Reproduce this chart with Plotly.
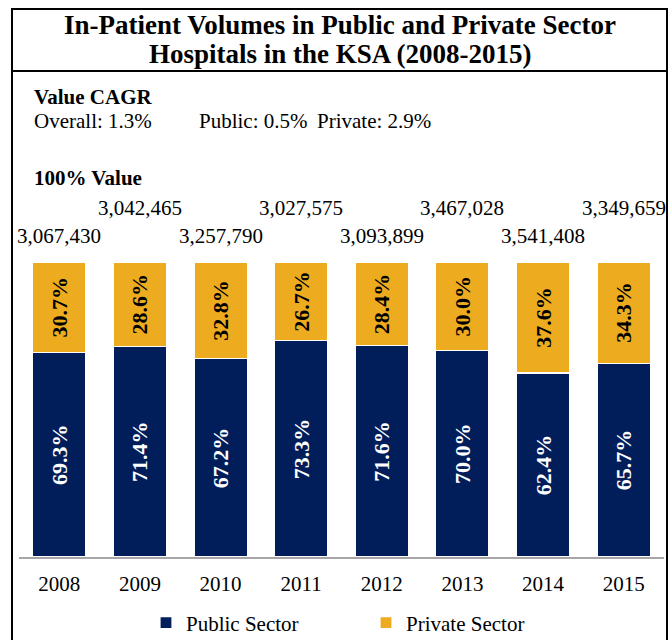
import plotly.graph_objects as go

# ---- data ----
years = ["2008", "2009", "2010", "2011", "2012", "2013", "2014", "2015"]
public_pct = [69.3, 71.4, 67.2, 73.3, 71.6, 70.0, 62.4, 65.7]
private_pct = [30.7, 28.6, 32.8, 26.7, 28.4, 30.0, 37.6, 34.3]
totals = [3067430, 3042465, 3257790, 3027575, 3093899, 3467028, 3541408, 3349659]
cagr_labels = ["Overall: 1.3%", "Public: 0.5%", "Private: 2.9%"]

NAVY = "#011E5B"
GOLD = "#EDAC1F"
FONT = "Liberation Serif, Times New Roman, serif"

W, H = 669, 640
L, R, T, B = 19, 5, 262, 83
PW = W - L - R
PH = H - T - B


def px(x):
    return (x - L) / PW


def py(y):
    return (H - B - y) / PH


fig = go.Figure()
fig.add_bar(
    x=years, y=public_pct, name="Public Sector",
    marker=dict(color=NAVY, line=dict(color="white", width=1.2)),
    text=[f"{v:.1f}%" for v in public_pct], textposition="inside",
    insidetextanchor="middle", textangle=-90, constraintext="none",
    textfont=dict(family=FONT, size=22, color="white", weight="bold"),
    hoverinfo="skip",
)
fig.add_bar(
    x=years, y=private_pct, name="Private Sector",
    marker=dict(color=GOLD, line=dict(color="white", width=1.2)),
    text=[f"{v:.1f}%" for v in private_pct], textposition="inside",
    insidetextanchor="middle", textangle=-90, constraintext="none",
    textfont=dict(family=FONT, size=22, color="black", weight="bold"),
    hoverinfo="skip",
)

ann = []
# title
ann.append(dict(text="<b>In-Patient Volumes in Public and Private Sector</b>",
                x=px(340), y=py(25), xref="paper", yref="paper",
                showarrow=False, font=dict(family=FONT, size=27, color="black"),
                xanchor="center", yanchor="middle"))
ann.append(dict(text="<b>Hospitals in the KSA (2008-2015)</b>",
                x=px(340), y=py(54), xref="paper", yref="paper",
                showarrow=False, font=dict(family=FONT, size=27, color="black"),
                xanchor="center", yanchor="middle"))
# CAGR block
ann.append(dict(text="<b>Value CAGR</b>", x=px(32), y=py(97), xref="paper", yref="paper",
                showarrow=False, font=dict(family=FONT, size=21, color="black"),
                xanchor="left", yanchor="middle"))
for lbl, xp in zip(cagr_labels, [32, 197, 315]):
    ann.append(dict(text=lbl, x=px(xp), y=py(121), xref="paper", yref="paper",
                    showarrow=False, font=dict(family=FONT, size=21, color="black"),
                    xanchor="left", yanchor="middle"))
ann.append(dict(text="<b>100% Value</b>", x=px(32), y=py(178), xref="paper", yref="paper",
                showarrow=False, font=dict(family=FONT, size=21, color="black"),
                xanchor="left", yanchor="middle"))
# totals (alternating rows)
for i, (yr, tot) in enumerate(zip(years, totals)):
    row_y = 236 if i % 2 == 0 else 208
    ann.append(dict(text=f"{tot:,}", x=i, y=py(row_y), xref="x", yref="paper",
                    showarrow=False, font=dict(family=FONT, size=21, color="black"),
                    xanchor="center", yanchor="middle"))

shapes = []
line = dict(color="black", width=2)
shapes.append(dict(type="line", xref="paper", yref="paper", x0=px(12), x1=px(12), y0=py(9), y1=py(645), line=line))
shapes.append(dict(type="line", xref="paper", yref="paper", x0=px(667), x1=px(667), y0=py(9), y1=py(645), line=line))
shapes.append(dict(type="line", xref="paper", yref="paper", x0=px(11), x1=px(668), y0=py(9), y1=py(9), line=line))
shapes.append(dict(type="line", xref="paper", yref="paper", x0=px(11), x1=px(668), y0=py(71), y1=py(71), line=line))

fig.update_layout(
    width=W, height=H, autosize=False,
    margin=dict(l=L, r=R, t=T, b=B, pad=0, autoexpand=False),
    paper_bgcolor="white", plot_bgcolor="white",
    barmode="stack", bargap=0.34,
    font=dict(family=FONT, size=21, color="black"),
    showlegend=True,
    legend=dict(orientation="h", x=px(146), y=py(623), xanchor="left", yanchor="middle",
                font=dict(family=FONT, size=21, color="black"),
                entrywidth=175, entrywidthmode="pixels", traceorder="normal",
                bgcolor="rgba(0,0,0,0)"),
    annotations=ann, shapes=shapes,
)
fig.update_xaxes(type="category", categoryorder="array", categoryarray=years,
                 range=[-0.5, 7.5], automargin=False,
                 showline=True, linecolor="#A6A6A6", linewidth=2,
                 ticks="", showgrid=False, ticklabelstandoff=7,
                 tickfont=dict(family=FONT, size=21, color="black"))
fig.update_yaxes(range=[0, 100], visible=False, showgrid=False, zeroline=False, automargin=False)

fig.write_html("out.html", config={"displayModeBar": False},
               post_script="document.body.style.margin='0';document.body.style.padding='0';")
